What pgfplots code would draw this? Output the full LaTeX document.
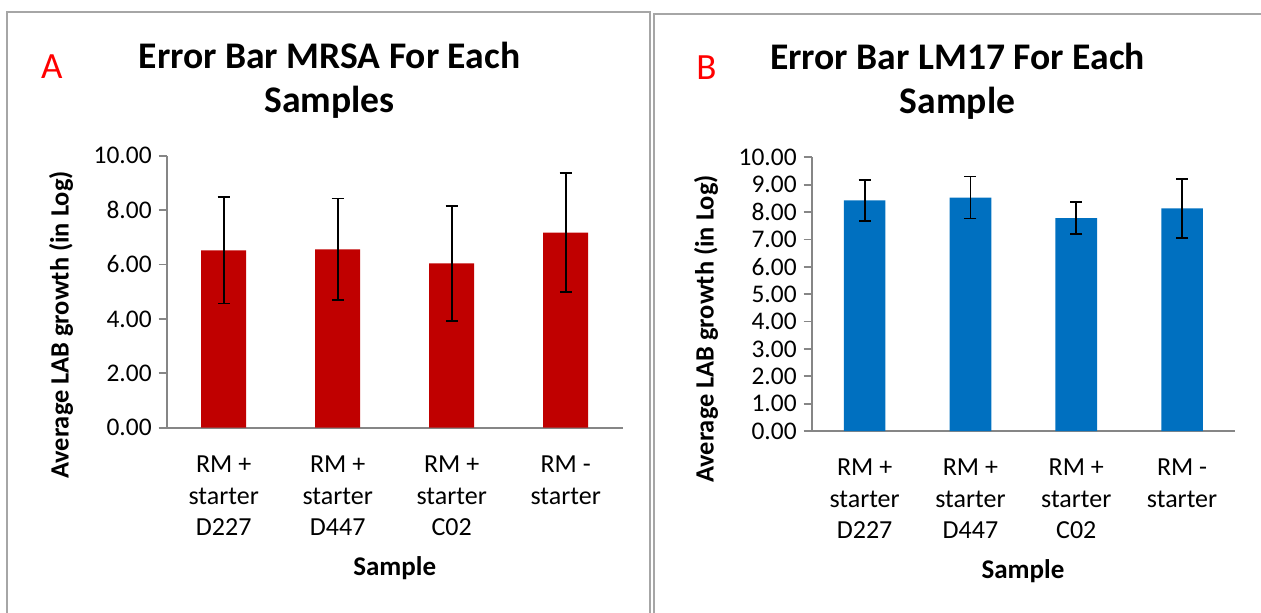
\documentclass[border=0pt]{standalone}
\usepackage{pgfplots}
\pgfplotsset{compat=1.18}
\usepackage{fontspec}
\setmainfont{Carlito}
\definecolor{axgray}{HTML}{868686}
\definecolor{boxgray}{HTML}{A6A6A6}
\definecolor{barred}{HTML}{C00000}
\definecolor{barblue}{HTML}{0070C0}
\pgfplotsset{
  excelbar/.style={
    scale only axis,
    xmin=-0.5, xmax=3.5, ymin=0, ymax=10,
    axis x line*=bottom, axis y line*=left,
    axis line style={draw=axgray, line width=0.9pt, -},
    xtick={0,1,2,3},
    xticklabels={{RM +\\starter\\D227},{RM +\\starter\\D447},{RM +\\starter\\C02},{RM -\\starter}},
    x tick style={draw=none},
    extra x ticks={-0.5,0.5,1.5,2.5,3.5},
    extra x tick labels={},
    extra x tick style={tick align=outside, major tick length=4pt, tick style={draw=axgray, line width=0.9pt}},
    ytick align=outside, major tick length=4pt,
    y tick style={draw=axgray, line width=0.9pt},
    xticklabel style={font=\fontsize{13pt}{15.8pt}\selectfont, align=center, anchor=north, yshift=-10.5pt},
    yticklabel style={font=\fontsize{12.7pt}{14pt}\selectfont},
    /pgf/number format/.cd, fixed, fixed zerofill, precision=2, assume math mode=true,
  },
}
\begin{document}
\begin{tikzpicture}
\path[use as bounding box] (0,0) rectangle (630.5pt,306pt);
% panel borders
\draw[boxgray, line width=1pt] (3.5pt,-2pt) -- (3.5pt,300pt) -- (325pt,300pt) -- (325pt,-2pt);
\draw[boxgray, line width=1pt] (327pt,-2pt) -- (327pt,299pt) -- (640pt,299pt);
% Panel A
\begin{axis}[excelbar, at={(83.35pt,92.15pt)}, anchor=south west,
  width=228pt, height=136pt, ytick={0,2,4,6,8,10}]
\addplot[ybar, bar width=22.5pt, fill=barred, draw=none,
  error bars/.cd, y dir=both, y explicit,
  error bar style={black, line width=0.9pt},
  error mark options={black, line width=0.9pt, mark size=3pt, rotate=90}]
  table[x=x, y=y, y error=e] {
x y e
0 6.52 1.95
1 6.56 1.87
2 6.04 2.12
3 7.17 2.18
};
\end{axis}
% Panel B
\begin{axis}[excelbar, at={(405.85pt,90.5pt)}, anchor=south west,
  width=211.65pt, height=136.85pt, ytick={0,1,...,10}]
\addplot[ybar, bar width=20.85pt, fill=barblue, draw=none,
  error bars/.cd, y dir=both, y explicit,
  error bar style={black, line width=0.9pt},
  error mark options={black, line width=0.9pt, mark size=3pt, rotate=90}]
  table[x=x, y=y, y error=e] {
x y e
0 8.43 0.745
1 8.53 0.765
2 7.78 0.58
3 8.13 1.07
};
\end{axis}
% titles
\node[anchor=base, inner sep=0pt, font=\fontsize{18.8pt}{22pt}\selectfont\bfseries] at (164.75pt,271.85pt) {Error Bar MRSA For Each};
\node[anchor=base, inner sep=0pt, font=\fontsize{18.8pt}{22pt}\selectfont\bfseries] at (164.75pt,249.65pt) {Samples};
\node[anchor=base, inner sep=0pt, font=\fontsize{18.8pt}{22pt}\selectfont\bfseries] at (478.75pt,271.5pt) {Error Bar LM17 For Each};
\node[anchor=base, inner sep=0pt, font=\fontsize{18.8pt}{22pt}\selectfont\bfseries] at (478.75pt,249.35pt) {Sample};
\node[anchor=base west, inner sep=0pt, text=red, font=\fontsize{18.5pt}{22pt}\selectfont] at (20.35pt,266.85pt) {A};
\node[anchor=base west, inner sep=0pt, text=red, font=\fontsize{18.5pt}{22pt}\selectfont] at (348pt,266pt) {B};
% y labels
\node[rotate=90, inner sep=0pt, font=\fontsize{13.2pt}{15pt}\selectfont\bfseries] at (30.5pt,143.5pt) {Average LAB growth (in Log)};
\node[rotate=90, inner sep=0pt, font=\fontsize{13.2pt}{15pt}\selectfont\bfseries] at (353pt,141.5pt) {Average LAB growth (in Log)};
% x labels
\node[anchor=base, inner sep=0pt, font=\fontsize{13.5pt}{14pt}\selectfont\bfseries] at (197.35pt,18.5pt) {Sample};
\node[anchor=base, inner sep=0pt, font=\fontsize{13.5pt}{14pt}\selectfont\bfseries] at (511.5pt,17pt) {Sample};
\end{tikzpicture}
\end{document}
